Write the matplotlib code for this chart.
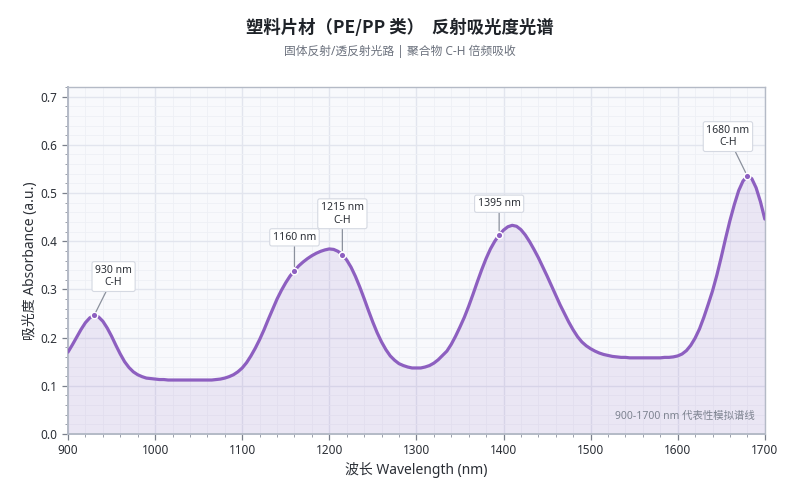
import matplotlib
matplotlib.use("Agg")
import matplotlib.pyplot as plt
from matplotlib.ticker import MultipleLocator, AutoMinorLocator

plt.rcParams['font.family'] = ['Noto Sans', 'Noto Sans CJK SC', 'DejaVu Sans']

wavelength = list(range(900, 1701, 5))
absorbance = [
    0.170, 0.185, 0.201, 0.217, 0.231, 0.241, 0.246, 0.243, 0.234, 0.220,  # 900-945
    0.203, 0.184, 0.166, 0.150, 0.138, 0.129, 0.123, 0.119, 0.116, 0.115,  # 950-995
    0.114, 0.113, 0.113, 0.112, 0.112, 0.112, 0.112, 0.112, 0.112, 0.112,  # 1000-1045
    0.112, 0.112, 0.112, 0.112, 0.113, 0.114, 0.116, 0.119, 0.123, 0.129,  # 1050-1095
    0.137, 0.148, 0.162, 0.178, 0.196, 0.216, 0.238, 0.259, 0.280, 0.298,  # 1100-1145
    0.314, 0.328, 0.339, 0.349, 0.357, 0.364, 0.370, 0.375, 0.379, 0.382,  # 1150-1195
    0.384, 0.383, 0.379, 0.372, 0.361, 0.346, 0.327, 0.305, 0.281, 0.256,  # 1200-1245
    0.232, 0.210, 0.191, 0.175, 0.162, 0.153, 0.146, 0.142, 0.139, 0.137,  # 1250-1295
    0.137, 0.137, 0.139, 0.142, 0.147, 0.154, 0.163, 0.172, 0.186, 0.203,  # 1300-1345
    0.222, 0.242, 0.265, 0.290, 0.316, 0.341, 0.364, 0.384, 0.400, 0.413,  # 1350-1395
    0.423, 0.430, 0.433, 0.431, 0.424, 0.413, 0.399, 0.383, 0.366, 0.347,  # 1400-1445
    0.328, 0.308, 0.288, 0.268, 0.250, 0.232, 0.216, 0.202, 0.191, 0.183,  # 1450-1495
    0.177, 0.172, 0.168, 0.165, 0.163, 0.161, 0.160, 0.159, 0.159, 0.158,  # 1500-1545
    0.158, 0.158, 0.158, 0.158, 0.158, 0.158, 0.158, 0.159, 0.159, 0.160,  # 1550-1595
    0.162, 0.166, 0.173, 0.184, 0.199, 0.218, 0.242, 0.269, 0.297, 0.330,  # 1600-1645
    0.367, 0.406, 0.443, 0.476, 0.505, 0.525, 0.535, 0.530, 0.511, 0.482,  # 1650-1695
    0.446,                                                                  # 1700
]

peak_nm = [930, 1160, 1215, 1395, 1680]
peak_abs = [0.246, 0.339, 0.372, 0.413, 0.535]
peak_labels = ["930 nm\nC-H", "1160 nm", "1215 nm\nC-H", "1395 nm", "1680 nm\nC-H"]
label_offsets = [(14, 19.5), (0, 20), (0, 21), (0, 18.5), (-14, 20)]

title = "塑料片材（PE/PP 类）  反射吸光度光谱"
subtitle = "固体反射/透反射光路 | 聚合物 C-H 倍频吸收"
note = "900-1700 nm 代表性模拟谱线"

line_color = "#8d5fc0"
text_dark = "#2b2f36"
grid_major = "#e2e5ee"
grid_minor = "#eef0f5"
spine_color = "#b4bac6"

fig = plt.figure(figsize=(8, 5), dpi=100)
ax = fig.add_axes([0.085, 0.132, 0.871, 0.694])
ax.set_facecolor("#f8f9fc")

ax.fill_between(wavelength, absorbance, 0, color=line_color, alpha=0.12, linewidth=0, zorder=2)
ax.plot(wavelength, absorbance, color=line_color, linewidth=2.3, zorder=3,
        solid_capstyle='round', solid_joinstyle='round')

ax.scatter(peak_nm, peak_abs, s=22, color=line_color, edgecolor="white", linewidth=1.0, zorder=5)
for x, y, lab, off in zip(peak_nm, peak_abs, peak_labels, label_offsets):
    ax.annotate(lab, xy=(x, y), xytext=off, textcoords='offset points',
                ha='center', va='bottom', fontsize=7.5, color=text_dark, linespacing=1.2,
                bbox=dict(boxstyle="round,pad=0.3,rounding_size=0.2", fc="white", ec="#d5d9e2", lw=0.8),
                arrowprops=dict(arrowstyle='-', color="#8a909c", lw=0.9, shrinkA=0, shrinkB=3),
                zorder=6)

ax.set_xlim(900, 1700)
ax.set_ylim(0, 0.72)
ax.xaxis.set_major_locator(MultipleLocator(100))
ax.xaxis.set_minor_locator(AutoMinorLocator(5))
ax.yaxis.set_major_locator(MultipleLocator(0.1))
ax.yaxis.set_minor_locator(AutoMinorLocator(5))

ax.grid(True, which='major', color=grid_major, linewidth=1.0, zorder=0)
ax.grid(True, which='minor', color=grid_minor, linewidth=0.6, zorder=0)
ax.set_axisbelow(True)

for side in ['top', 'right', 'bottom', 'left']:
    ax.spines[side].set_color(spine_color)
    ax.spines[side].set_linewidth(1.0)
ax.spines['left'].set_linewidth(1.4)
ax.spines['bottom'].set_linewidth(1.4)

ax.tick_params(which='major', direction='out', length=4, width=0.9, color="#7a808c",
               labelsize=8.5, labelcolor=text_dark)
ax.tick_params(which='minor', direction='out', length=2, width=0.7, color="#9aa0ab")

ax.set_xlabel("波长 Wavelength (nm)", fontsize=10, color=text_dark, labelpad=3)
ax.set_ylabel("吸光度 Absorbance (a.u.)", fontsize=10, color=text_dark, labelpad=2)

ax.text(0.985, 0.035, note, transform=ax.transAxes, ha='right', va='bottom',
        fontsize=7.5, color="#7d8390")

fig.text(0.5, 0.945, title, ha='center', va='center', fontsize=12.5, fontweight='bold',
         color="#1f2329", family=['Noto Sans CJK SC', 'DejaVu Sans'])
fig.text(0.5, 0.898, subtitle, ha='center', va='center', fontsize=8.5, color="#6b717d")

fig.savefig("out.png", dpi=100, facecolor="white")
